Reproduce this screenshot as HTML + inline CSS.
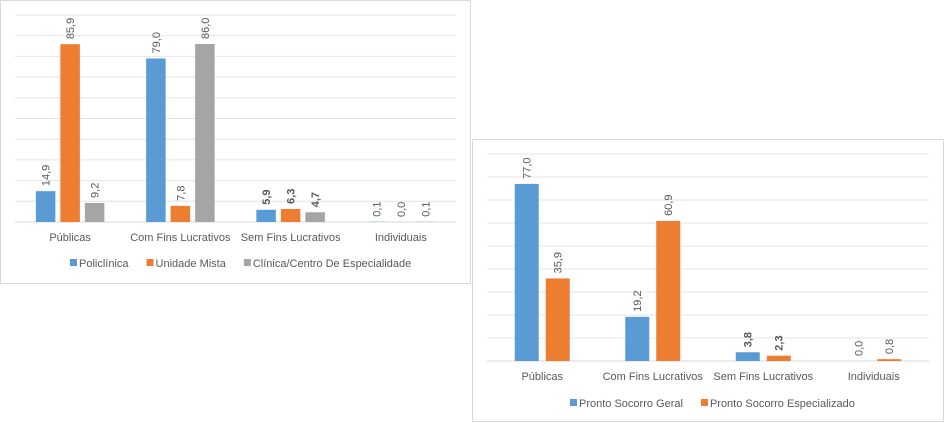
<!DOCTYPE html>
<html><head><meta charset="utf-8"><style>
body{margin:0;background:#fff;width:945px;height:423px;overflow:hidden}
svg{position:absolute;left:0;top:0}
text{font-family:"Liberation Sans",sans-serif;fill:#595959}
</style></head><body>
<svg id="s" width="945" height="423"></svg>
<script>
const categories=["Públicas","Com Fins Lucrativos","Sem Fins Lucrativos","Individuais"];
const c1Names=["Policlínica","Unidade Mista","Clínica/Centro De Especialidade"];
const c1Poli=[14.9,79.0,5.9,0.1];
const c1Mista=[85.9,7.8,6.3,0.0];
const c1Clin=[9.2,86.0,4.7,0.1];
const c2Names=["Pronto Socorro Geral","Pronto Socorro Especializado"];
const c2Geral=[77.0,19.2,3.8,0.0];
const c2Esp=[35.9,60.9,2.3,0.8];
const colors=["#5b9bd5","#ed7d31","#a5a5a5"];
const NS="http://www.w3.org/2000/svg";
const svg=document.getElementById('s');
function mk(tag,attrs,parent){const e=document.createElementNS(NS,tag);for(const k in attrs)e.setAttribute(k,attrs[k]);(parent||svg).appendChild(e);return e;}
function fmt(v){return v.toFixed(1).replace('.',',');}
function chart(cfg){
  const g=mk('g',{});
  
  
  const fr=mk('rect',{x:cfg.bx,y:cfg.by,width:cfg.bw,height:cfg.bh,fill:'#fff',stroke:'#d9d9d9'},g);
  
  
  const y=v=>cfg.base-(v/cfg.max)*(cfg.base-cfg.top);
  for(let t=0;t<=cfg.max;t+=10){
    const l=mk('line',{x1:cfg.x0,x2:cfg.x1,y1:y(t),y2:y(t),stroke:t===0?'#d9d9d9':'#e4e4e4','stroke-width':1},g);
    
    
  }
  const cw=(cfg.x1-cfg.x0)/categories.length;
  const n=cfg.series.length;
  categories.forEach((c,i)=>{
    const cx=cfg.x0+cw*(i+0.5);
    const total=n*cfg.barW+(n-1)*cfg.gap;
    cfg.series.forEach((s,j)=>{
      const v=s[i];
      const x=cx-total/2+j*(cfg.barW+cfg.gap);
      const r=mk('rect',{x:x,y:y(v),width:cfg.barW,height:Math.max(0,cfg.base-y(v)),fill:colors[j]},g);
      
      
      const tx=x+cfg.barW/2+4, ty=y(v)-5;
      const t=mk('text',{x:tx,y:ty,'font-size':11,transform:`rotate(-90 ${tx} ${ty})`,'font-weight':i===2?'bold':'normal',fill:i===2?'#404040':'#595959'},g);
      t.textContent=fmt(v);
      
      
    });
    const ct=mk('text',{x:cx,y:cfg.catY,'text-anchor':'middle','font-size':11},g);
    ct.textContent=c;
    
    
  });
  let lx=cfg.legX;
  cfg.names.forEach((nm,j)=>{
    const sq=mk('rect',{x:lx,y:cfg.legY-8,width:7,height:7,fill:colors[j]},g);
    
    
    const t=mk('text',{x:lx+9,y:cfg.legY,'font-size':11},g);
    t.textContent=nm;
    
    
    lx+=9+t.getComputedTextLength()+18;
  });
}
chart({name:'chart-ambulatorial',bx:0.5,by:0.5,bw:470,bh:283,x0:15,x1:456,top:15,base:222,max:100,
  series:[c1Poli,c1Mista,c1Clin],names:c1Names,barW:19.5,gap:5,catY:241,legX:70,legY:267});
chart({name:'chart-pronto-socorro',bx:472.5,by:139.5,bw:471,bh:282,x0:487,x1:929,top:154,base:361,max:90,
  series:[c2Geral,c2Esp],names:c2Names,barW:24,gap:7,catY:380,legX:570,legY:407});
</script>
</body></html>
